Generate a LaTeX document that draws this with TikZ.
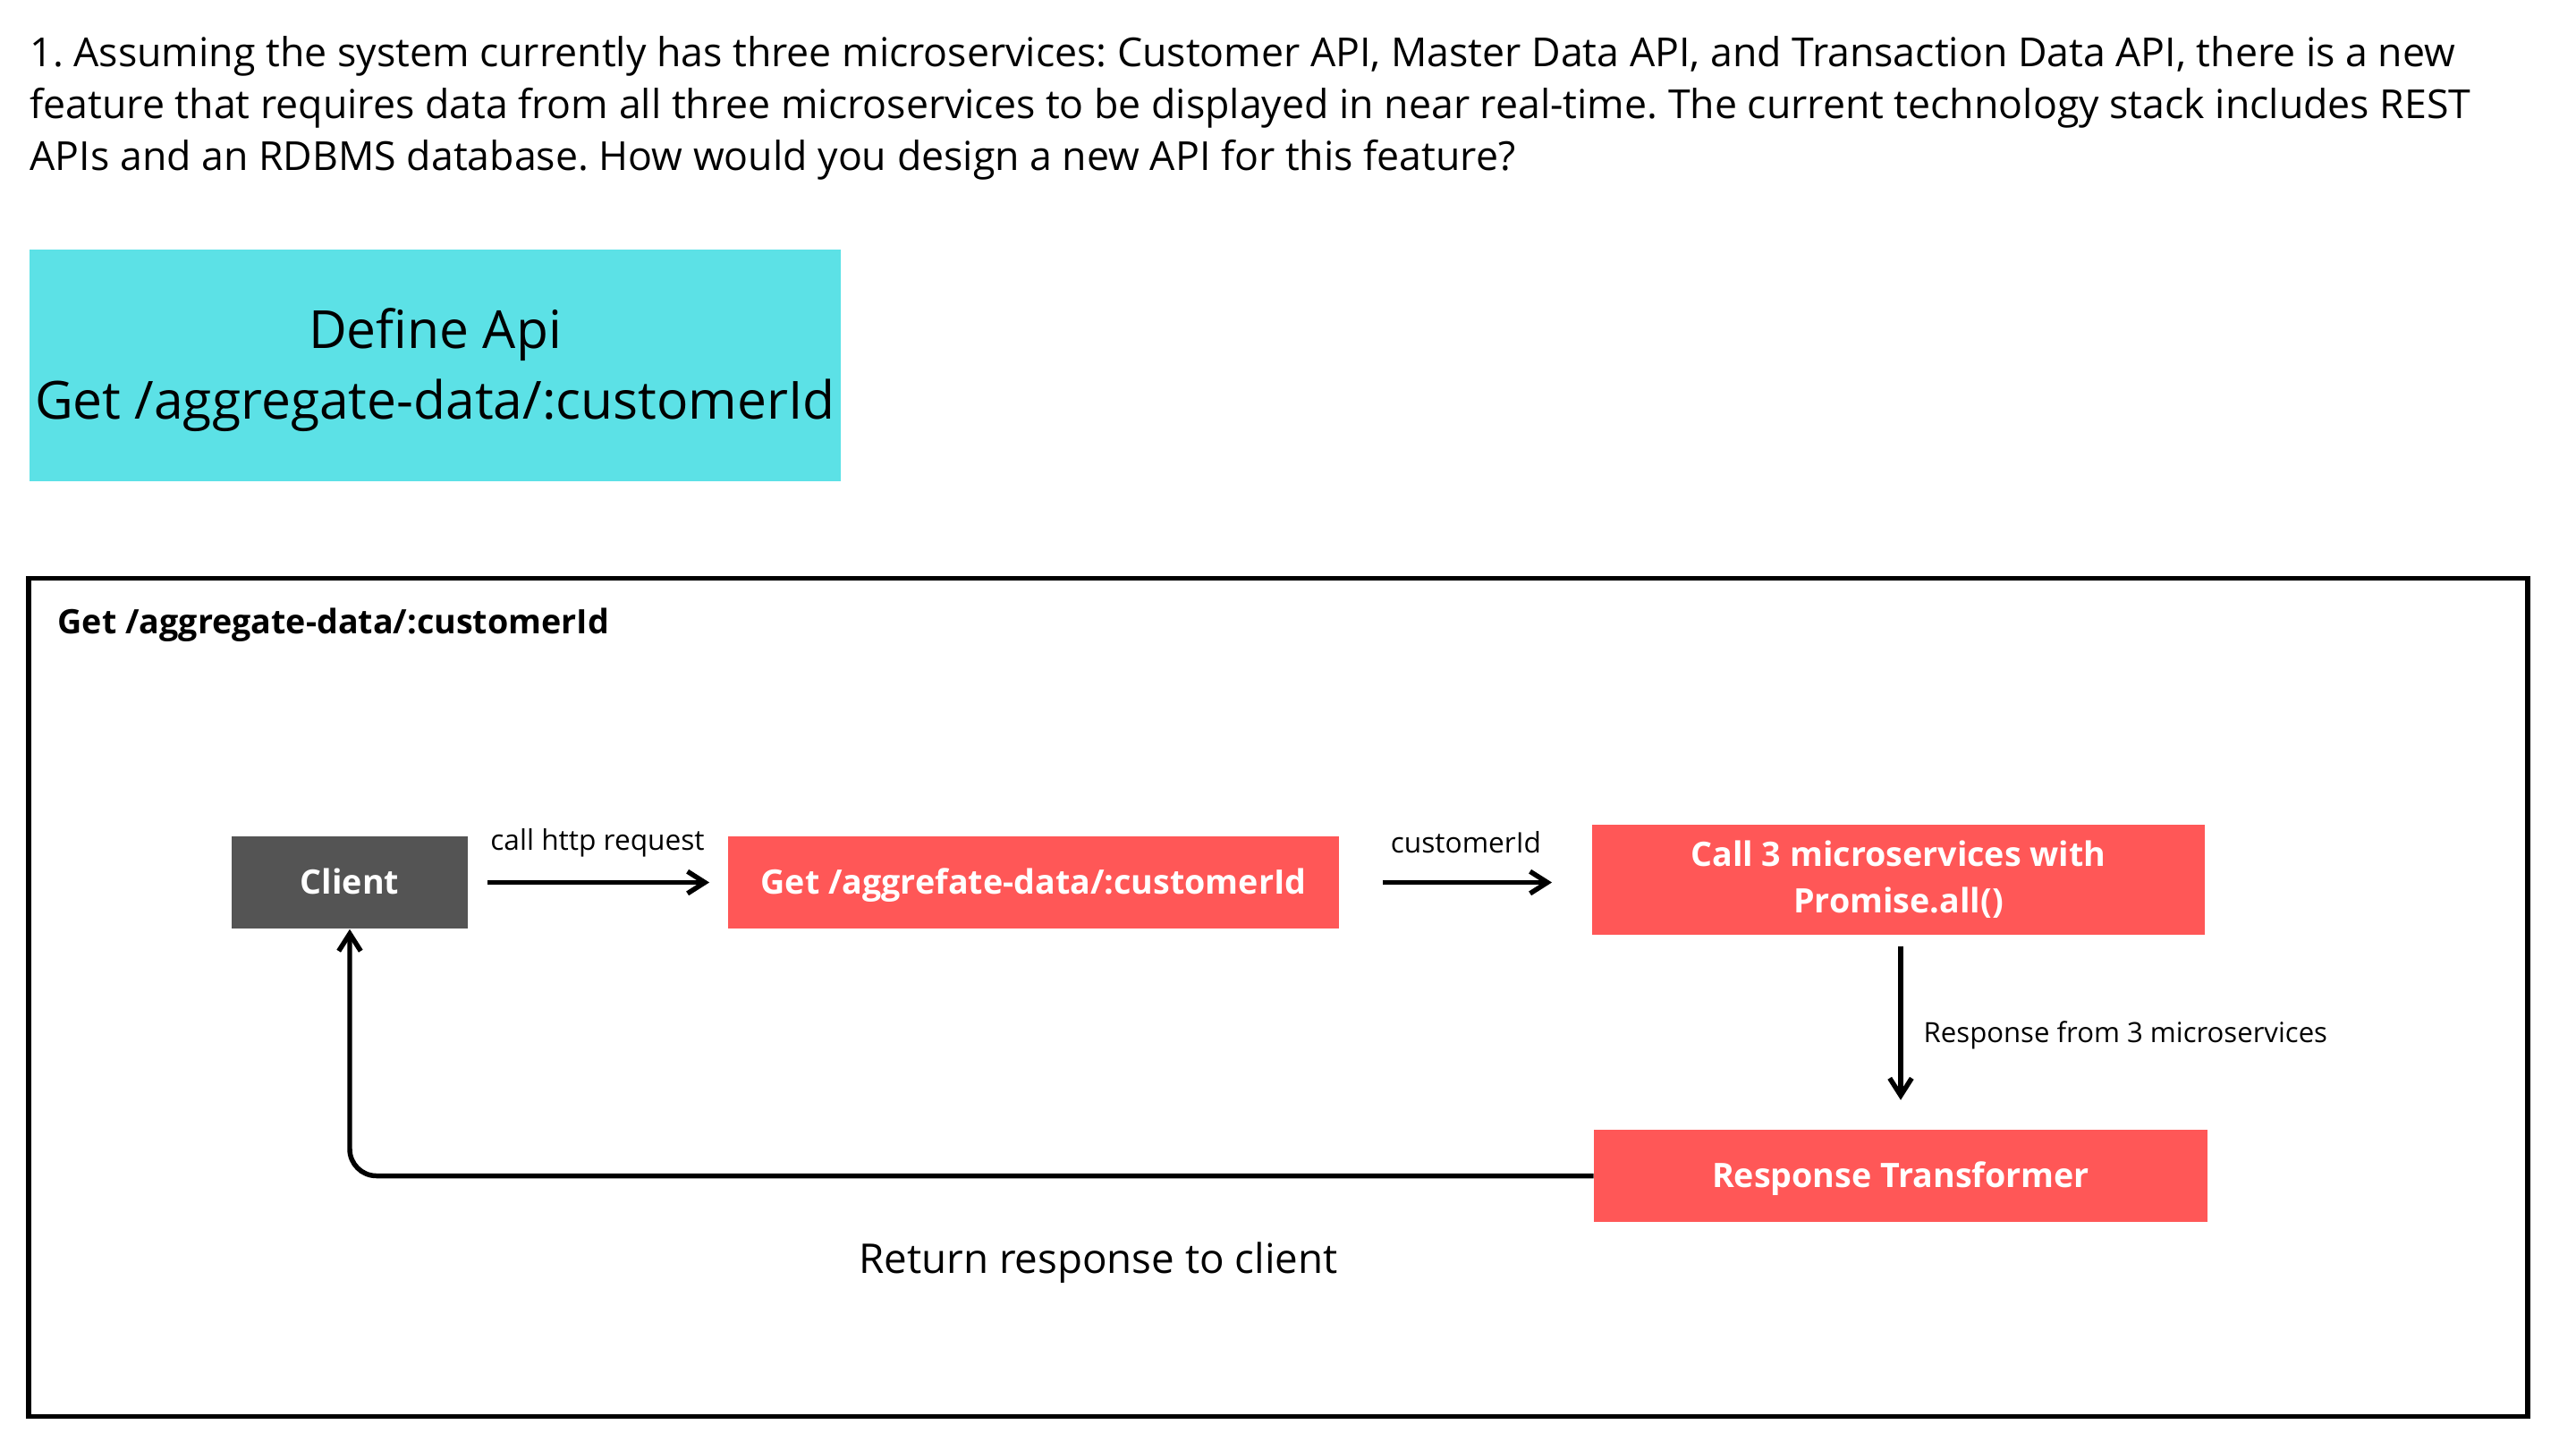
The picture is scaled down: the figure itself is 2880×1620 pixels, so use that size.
\documentclass[tikz,border=0pt]{standalone}
\usepackage{fontspec}
\setmainfont{Open Sans}
\usetikzlibrary{arrows.meta}
\definecolor{cyanbox}{HTML}{5CE1E6}
\definecolor{redbox}{HTML}{FF5757}
\definecolor{graybox}{HTML}{545454}
\frenchspacing
\begin{document}
\begin{tikzpicture}[x=0.01cm,y=-0.01cm,
  titletxt/.style={inner sep=0pt, anchor=base west, font=\fontsize{12.7}{16.5}\selectfont},
  boxlbl/.style={inner sep=0pt, text=white, align=center, font=\fontsize{10.7}{14.8}\selectfont\bfseries},
  onelinebox/.style={text height=0.714em, text depth=0pt},
  redbox/.style={boxlbl, fill=redbox},
  small/.style={inner sep=0pt, font=\fontsize{9}{11}\selectfont},
  arr/.style={line width=1.56pt, -{Straight Barb[length=5.5pt,width=7pt]}},
]
\path[use as bounding box, fill=white] (0,0) rectangle (2880,1620);
\node[titletxt] (t1) at (33,74) {1. Assuming the system currently has three microservices: Customer API, Master Data API, and Transaction Data API, there is a new};
\node[titletxt] (t2) at (33,132) {feature that requires data from all three microservices to be displayed in near real-time. The current technology stack includes REST};
\node[titletxt] (t3) at (33,190) {APIs and an RDBMS database. How would you design a new API for this feature?};
\node[fill=cyanbox, minimum width=9.07cm, minimum height=2.59cm, inner sep=0pt] (def) at (486.5,408.5) {};
\node[inner sep=0pt, align=center, font=\fontsize{16.7}{22.5}\selectfont] (deftext) at (486.5,414) {Define Api\\Get /aggregate-data/:customerId};
\node[draw, line width=1.56pt, minimum width=27.92cm, minimum height=9.36cm, inner sep=0pt] (frame) at (1429,1115) {};
\node[inner sep=0pt, anchor=base west, font=\fontsize{10.7}{13}\selectfont\bfseries] (ftitle) at (64,708) {Get /aggregate-data/:customerId};
\node[boxlbl, onelinebox, fill=graybox, minimum width=2.64cm, minimum height=1.03cm] (client) at (391,986.5) {Client};
\node[redbox, onelinebox, minimum width=6.83cm, minimum height=1.03cm] (get) at (1155.5,986.5) {Get /aggrefate-data/:customerId};
\node[redbox, minimum width=6.85cm, minimum height=1.23cm] (call) at (2122.5,983.5) {Call 3 microservices with\\Promise.all()};
\node[redbox, onelinebox, minimum width=6.85cm, minimum height=1.02cm] (resp) at (2125,1314.5) {Response Transformer};
\draw[arr, shorten <=21*0.2845pt, shorten >=20*0.2845pt] (client) -- (get);
\node[small, anchor=base] (l1) at (668,950) {call http request};
\draw[arr, shorten <=48*0.2845pt, shorten >=44*0.2845pt] (get.east) -- (get.east -| call.west);
\node[small, anchor=base] (l2) at (1639,953) {customerId};
\draw[arr, shorten <=12*0.2845pt, shorten >=33*0.2845pt] (resp.north |- call.south) -- (resp.north);
\node[small, anchor=base west, font=\fontsize{8.85}{11}\selectfont] (l3) at (2150,1165) {Response from 3 microservices};
\draw[arr, rounded corners=8.5pt] (resp.west) -| (client.south);
\node[inner sep=0pt, anchor=base, font=\fontsize{13}{15}\selectfont] (l4) at (1228,1423) {Return response to client};
\end{tikzpicture}
\end{document}
